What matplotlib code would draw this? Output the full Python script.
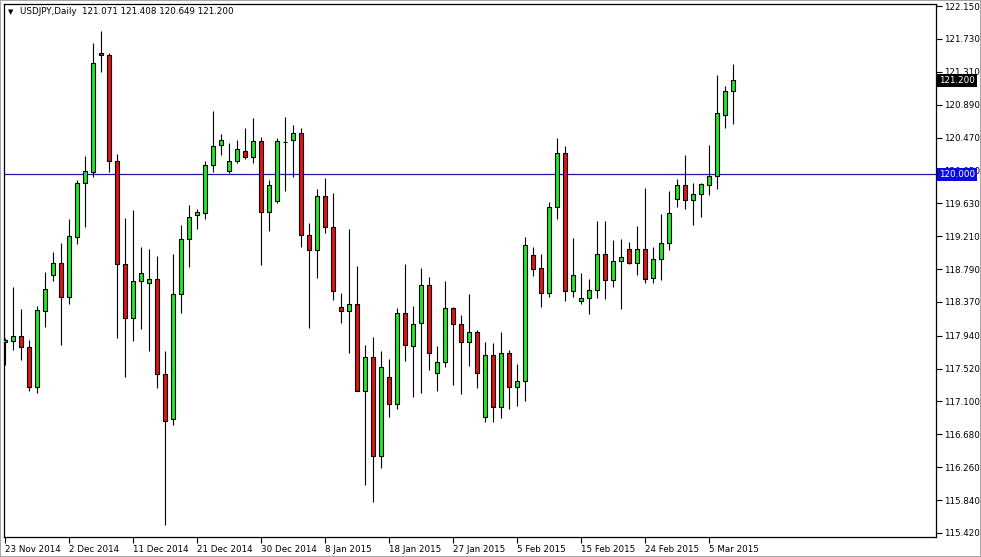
import matplotlib
matplotlib.use('Agg')
import matplotlib.pyplot as plt
import matplotlib.transforms as mtransforms
from matplotlib.patches import Rectangle

# USDJPY daily bars (Sunday bars included)
opens = [
    117.860, 117.875, 117.935, 117.790, 117.288, 118.259, 118.720, 118.864, 118.437, 119.204,
    119.886, 120.034, 121.546, 121.520, 120.167, 118.851, 118.169, 118.642, 118.609, 118.660,
    117.446, 116.871, 118.468, 119.171, 119.477, 119.502, 120.116, 120.371, 120.047, 120.170,
    120.294, 120.218, 120.422, 119.519, 119.656, 120.417, 120.439, 120.524, 119.222, 119.034,
    119.723, 119.324, 118.302, 118.251, 118.340, 117.237, 117.671, 116.403, 117.408, 117.063,
    118.225, 117.808, 118.098, 118.583, 117.459, 117.600, 118.289, 118.085, 117.863, 117.990,
    116.905, 117.689, 117.025, 117.714, 117.280, 117.357, 118.966, 118.804, 118.481, 119.587,
    120.277, 118.514, 118.386, 118.417, 118.519, 118.979, 118.647, 118.897, 119.043, 118.872,
    119.050, 118.676, 118.923, 119.119, 119.681, 119.860, 119.672, 119.745, 119.860, 119.979,
    120.754, 121.071,
]
highs = [
    117.910, 118.565, 118.284, 117.884, 118.320, 118.753, 119.008, 119.120, 119.426, 119.928,
    120.234, 121.674, 121.827, 121.546, 120.260, 119.439, 119.545, 119.076, 119.043, 118.957,
    117.744, 118.983, 119.353, 119.609, 119.561, 120.174, 120.813, 120.515, 120.404, 120.439,
    120.592, 120.720, 120.481, 119.928, 120.464, 120.736, 120.634, 120.592, 119.375, 119.809,
    119.950, 119.758, 118.481, 119.298, 118.829, 117.820, 117.926, 117.748, 117.638, 118.289,
    118.855, 118.320, 118.808, 118.693, 117.808, 118.642, 118.310, 118.204, 118.472, 118.012,
    117.863, 117.842, 117.987, 117.757, 117.574, 119.196, 119.076, 118.983, 119.647, 120.464,
    120.362, 119.183, 118.744, 118.660, 119.408, 119.408, 119.161, 119.170, 119.136, 119.340,
    119.822, 119.068, 119.494, 119.783, 119.937, 120.243, 119.886, 119.893, 120.371, 121.269,
    121.128, 121.408,
]
lows = [
    117.570, 117.757, 117.629, 117.237, 117.210, 118.054, 118.642, 117.820, 118.350, 119.110,
    119.324, 119.970, 121.311, 120.034, 117.906, 117.408, 117.875, 118.021, 117.748, 117.267,
    115.522, 116.799, 118.233, 118.813, 119.298, 119.434, 120.034, 120.250, 120.021, 120.149,
    120.200, 120.149, 118.838, 119.273, 119.638, 119.783, 119.962, 119.068, 118.034, 118.676,
    119.255, 118.395, 118.098, 117.714, 117.229, 116.033, 115.819, 116.246, 116.897, 117.000,
    117.620, 117.160, 117.210, 117.501, 117.237, 117.543, 117.310, 117.200, 117.552, 117.275,
    116.841, 116.841, 116.884, 117.000, 117.041, 117.109, 118.706, 118.310, 118.437, 119.434,
    118.386, 118.437, 118.344, 118.216, 118.417, 118.404, 118.557, 118.276, 118.855, 118.714,
    118.609, 118.616, 118.651, 119.034, 119.587, 119.561, 119.357, 119.451, 119.740, 119.817,
    120.596, 120.649,
]
closes = [
    117.890, 117.935, 117.790, 117.280, 118.267, 118.532, 118.864, 118.437, 119.213, 119.886,
    120.043, 121.418, 121.520, 120.167, 118.851, 118.169, 118.634, 118.736, 118.660, 117.446,
    116.854, 118.468, 119.171, 119.459, 119.515, 120.116, 120.362, 120.439, 120.170, 120.320,
    120.218, 120.422, 119.519, 119.860, 120.422, 120.417, 120.524, 119.222, 119.034, 119.723,
    119.324, 118.506, 118.251, 118.340, 117.237, 117.671, 116.403, 117.536, 117.063, 118.225,
    117.817, 118.089, 118.583, 117.722, 117.603, 118.289, 118.085, 117.863, 117.990, 117.459,
    117.689, 117.033, 117.714, 117.280, 117.357, 119.094, 118.795, 118.481, 119.587, 120.269,
    118.514, 118.711, 118.417, 118.519, 118.979, 118.647, 118.897, 118.948, 118.872, 119.050,
    118.667, 118.923, 119.119, 119.510, 119.860, 119.672, 119.745, 119.873, 119.979, 120.780,
    121.060, 121.200,
]

date_labels = ['23 Nov 2014', '2 Dec 2014', '11 Dec 2014', '21 Dec 2014', '30 Dec 2014',
               '8 Jan 2015', '18 Jan 2015', '27 Jan 2015', '5 Feb 2015', '15 Feb 2015',
               '24 Feb 2015', '5 Mar 2015']
price_ticks = ['122.150', '121.730', '121.310', '120.890', '120.470', '120.050', '119.630',
               '119.210', '118.790', '118.370', '117.940', '117.520', '117.100', '116.680',
               '116.260', '115.840', '115.420']
hline_level = 120.000
last_price = 121.200

plt.rcParams['font.family'] = ['DejaVu Sans']

fig = plt.figure(figsize=(9.81, 5.57), dpi=100)
ax = fig.add_axes([4/981, 20/557, 932/981, 533/557])

x = list(range(len(opens)))
bottoms = [min(o, c) for o, c in zip(opens, closes)]
heights = [abs(c - o) for o, c in zip(opens, closes)]
colors = ['#22e622' if c >= o else '#e01414' for o, c in zip(opens, closes)]

ax.vlines(x, lows, highs, color='black', linewidth=0.8, zorder=2)
ax.bar(x, heights, bottom=bottoms, width=0.55, color=colors,
       edgecolor='black', linewidth=0.8, zorder=3)

ax.axhline(hline_level, color='#1c1ca8', linewidth=0.9, zorder=1)

ax.set_xlim(-0.125, 116.375)
ax.set_ylim(115.368, 122.176)

ax.set_xticks(range(0, 8 * len(date_labels), 8))
ax.set_xticklabels(date_labels)
for lbl in ax.get_xticklabels():
    lbl.set_horizontalalignment('left')
ax.tick_params(axis='x', direction='out', length=4, width=0.8, pad=2,
               labelsize=6.3, colors='black')

ax.yaxis.tick_right()
ax.set_yticks([float(t) for t in price_ticks])
ax.set_yticklabels(price_ticks)
ax.tick_params(axis='y', direction='out', length=4, width=0.8, pad=2,
               labelsize=6.3, colors='black')

for sp in ax.spines.values():
    sp.set_linewidth(0.9)
    sp.set_color('black')

# price boxes on the right scale
trans = mtransforms.blended_transform_factory(ax.transAxes, ax.transData)
ax.text(1.003, last_price, f'{last_price:.3f}', transform=trans, ha='left', va='center',
        fontsize=6.3, color='white', clip_on=False, zorder=5,
        bbox=dict(boxstyle='square,pad=0.22', fc='black', ec='none'))
ax.text(1.003, hline_level, f'{hline_level:.3f}', transform=trans, ha='left', va='center',
        fontsize=6.3, color='white', clip_on=False, zorder=5,
        bbox=dict(boxstyle='square,pad=0.22', fc='#0a0ae6', ec='none'))

# header line
fig.text(8/981, 1 - 12/557, '\u25bc', fontsize=5, va='center', ha='left')
fig.text(20/981, 1 - 12/557,
         f'USDJPY,Daily  {opens[-1]:.3f} {highs[-1]:.3f} {lows[-1]:.3f} {closes[-1]:.3f}',
         fontsize=6.3, va='center', ha='left')

fig.patches.append(Rectangle((0, 0), 1, 1, transform=fig.transFigure, fill=False,
                             edgecolor='#a8a8a8', linewidth=1.5))

fig.savefig('out.png', dpi=100)
